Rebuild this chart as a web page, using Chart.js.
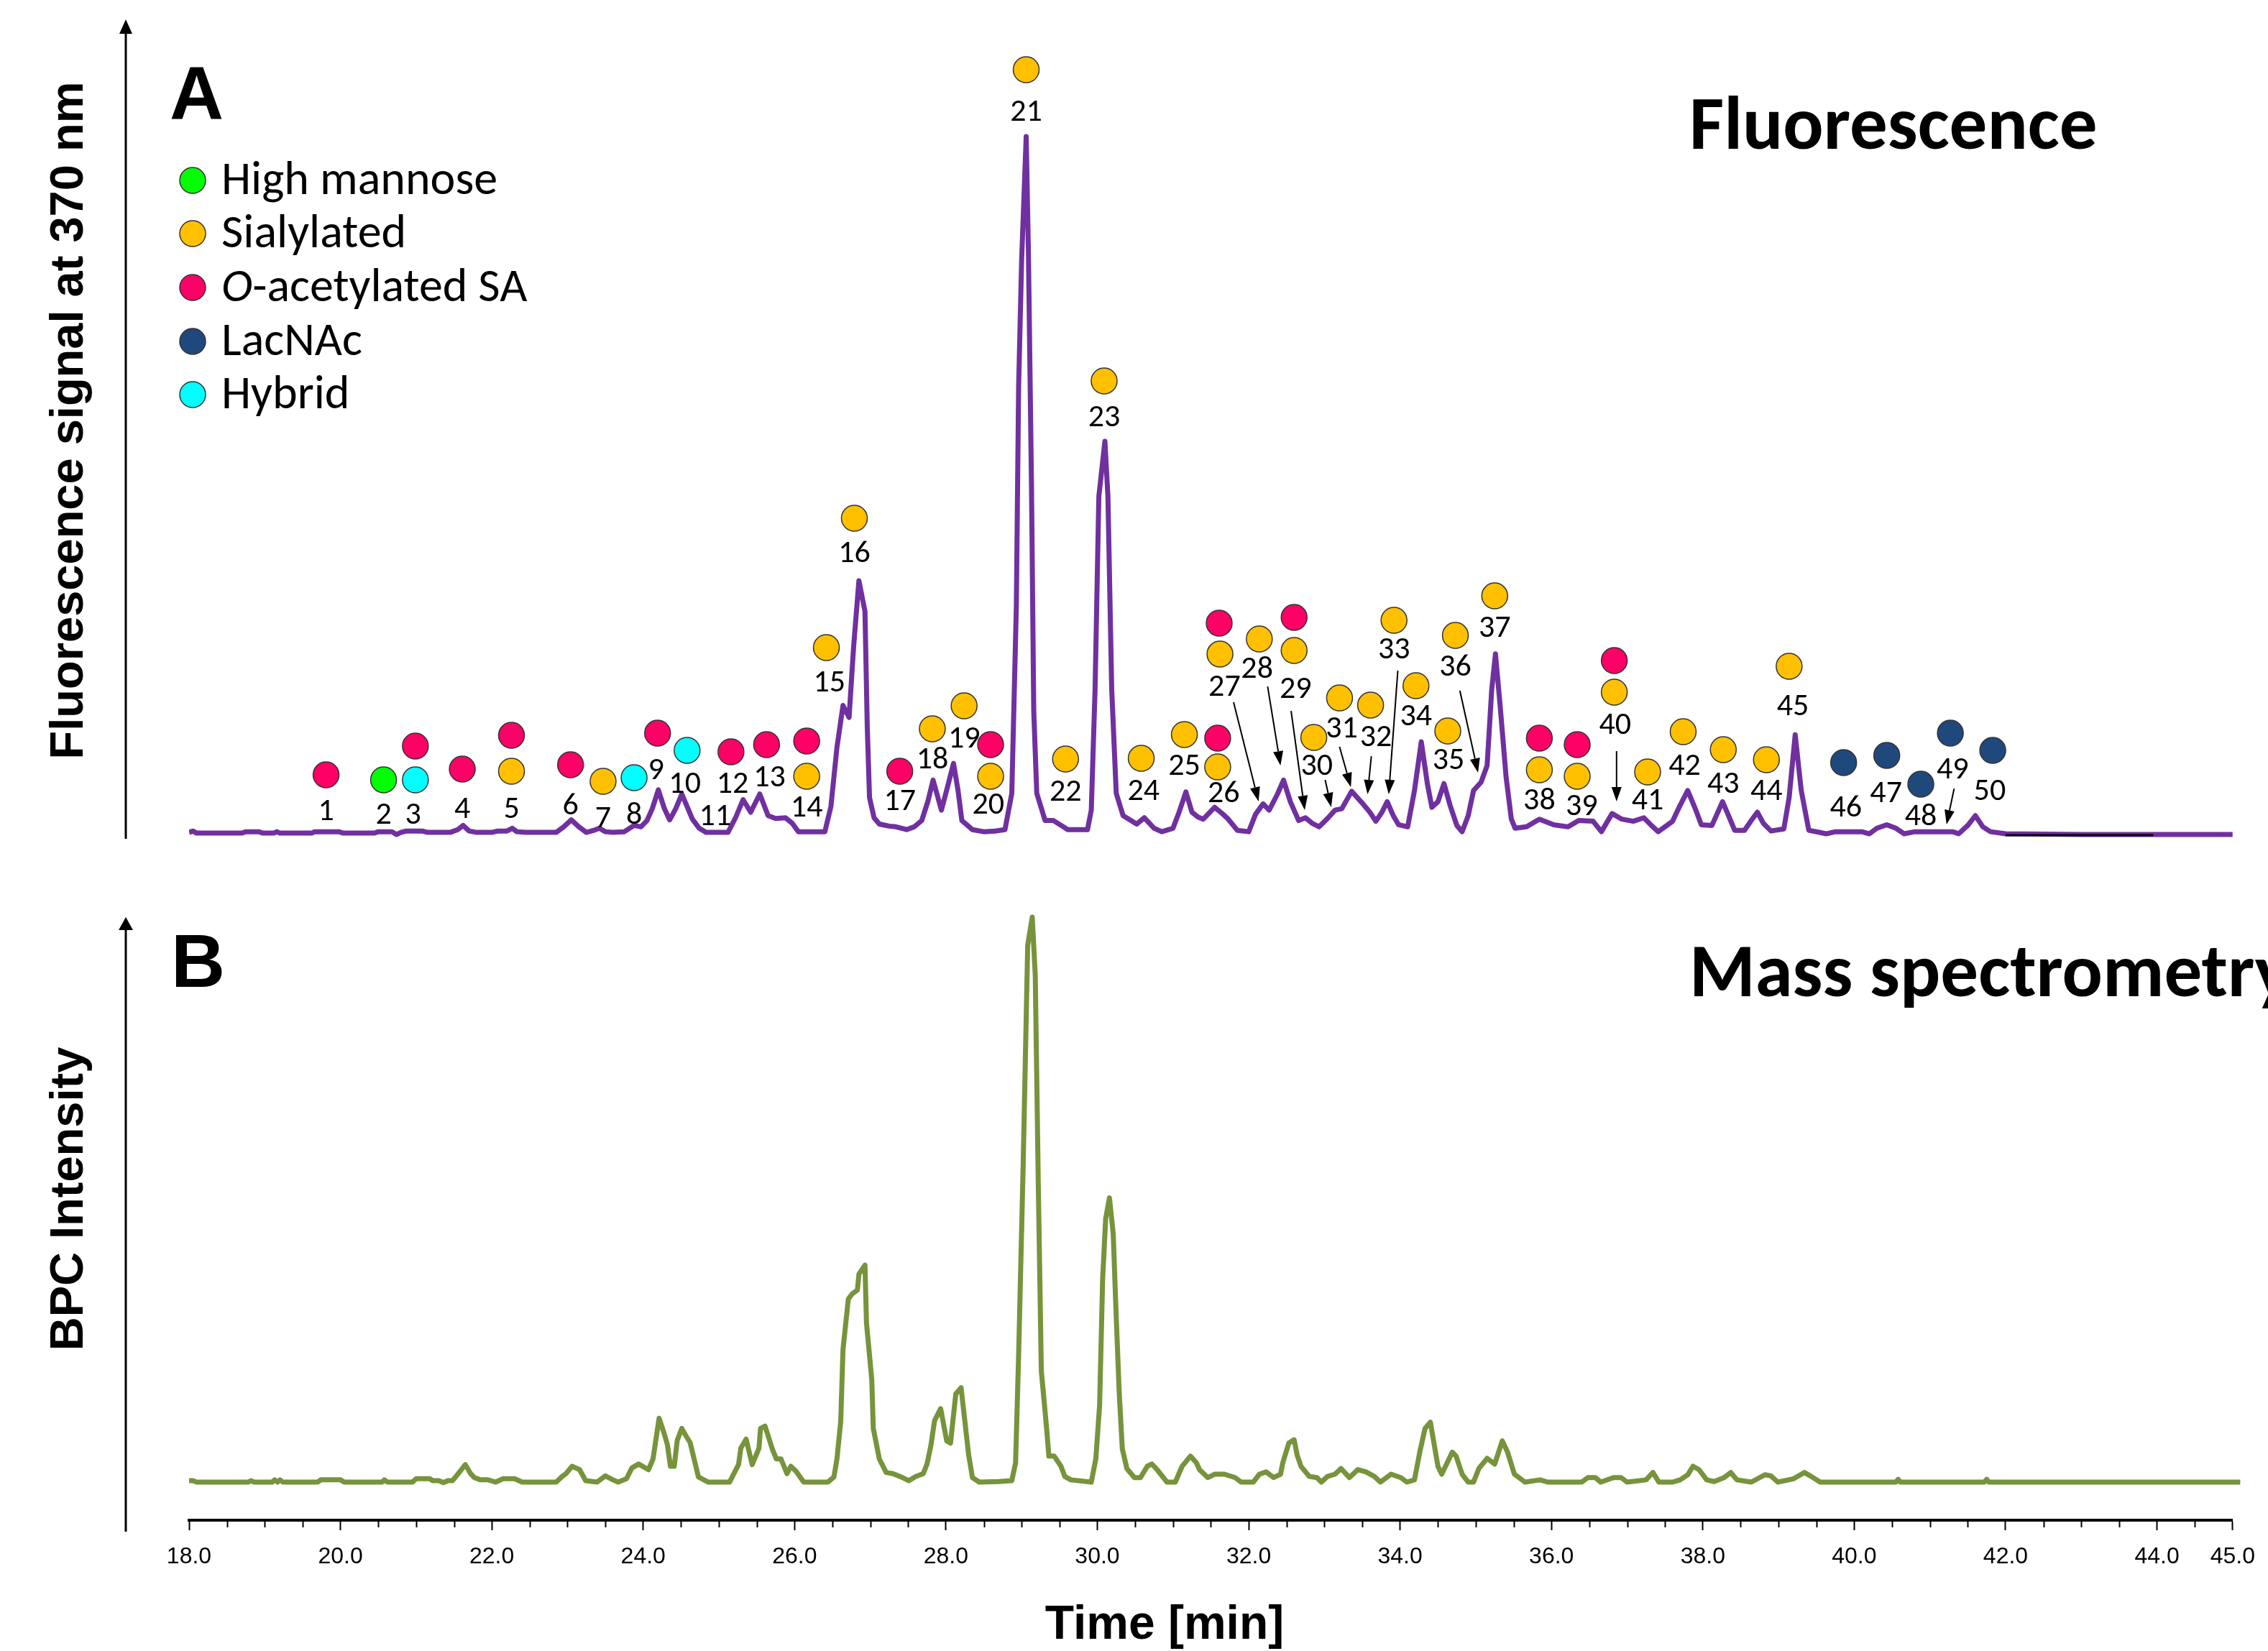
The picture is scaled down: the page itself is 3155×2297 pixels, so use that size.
<!DOCTYPE html>
<html>
<head>
<meta charset="utf-8">
<script src="https://cdn.jsdelivr.net/npm/chart.js@4.4.1/dist/chart.umd.min.js"></script>
<style>
  html, body { margin: 0; padding: 0; background: #fff; overflow: hidden; }
  canvas { display: block; }
</style>
</head>
<body>
<canvas id="chromatogram" width="3155" height="2297"></canvas>
<script>
// ---- data ----
// fluorescence trace, [time min, signal % of peak 21]
const fluoTrace = [
  [18.00,0.2],[18.05,0.4],[18.10,0.1],[18.70,0.1],[18.75,0.3],[18.92,0.3],[18.97,0.1],[19.12,0.1],[19.16,0.3],[19.20,0.1],
  [19.62,0.1],[19.66,0.3],[19.98,0.3],[20.03,0.1],[20.45,0.1],[20.50,0.3],[20.68,0.3],[20.74,-0.1],[20.80,0.2],[20.87,0.4],
  [21.08,0.4],[21.15,0.2],[21.45,0.2],[21.55,0.6],[21.62,1.2],[21.70,0.4],[21.80,0.2],[22.00,0.2],[22.08,0.4],[22.20,0.4],
  [22.27,0.8],[22.33,0.3],[22.45,0.2],[22.85,0.2],[22.95,1.0],[23.05,2.0],[23.15,1.0],[23.25,0.2],[23.35,0.5],[23.42,0.8],
  [23.50,0.3],[23.60,0.2],[23.75,0.3],[23.88,1.2],[23.97,1.0],[24.05,1.9],[24.12,3.6],[24.20,6.3],[24.28,3.6],[24.35,2.0],
  [24.43,3.6],[24.51,5.7],[24.58,3.9],[24.65,2.1],[24.74,0.8],[24.83,0.2],[25.12,0.2],[25.22,2.3],[25.32,4.9],[25.42,3.1],
  [25.54,5.7],[25.65,2.6],[25.75,2.2],[25.88,2.3],[25.97,1.5],[26.05,0.3],[26.40,0.3],[26.48,3.9],[26.56,12.4],[26.64,18.4],
  [26.72,16.7],[26.78,26.8],[26.85,36.3],[26.93,31.9],[26.96,15.5],[26.99,5.2],[27.05,2.3],[27.12,1.4],[27.25,1.1],[27.34,1.0],
  [27.48,0.6],[27.58,1.0],[27.68,1.9],[27.76,4.6],[27.83,7.7],[27.94,3.4],[28.02,6.7],[28.10,10.1],[28.16,6.2],[28.21,1.9],
  [28.35,0.6],[28.50,0.3],[28.65,0.4],[28.78,0.6],[28.87,5.8],[28.93,32.6],[28.96,64.1],[29.00,82.3],[29.06,100],[29.09,83.1],
  [29.13,50.0],[29.16,17.6],[29.20,5.8],[29.31,1.9],[29.42,1.9],[29.61,0.6],[29.87,0.6],[29.92,3.4],[29.97,20.7],[30.02,48.4],
  [30.10,56.3],[30.14,48.4],[30.19,20.7],[30.25,5.8],[30.34,2.6],[30.52,1.4],[30.62,2.3],[30.75,0.8],[30.85,0.3],[31.00,0.8],
  [31.08,3.1],[31.17,6.0],[31.25,3.1],[31.33,2.4],[31.40,2.1],[31.55,3.8],[31.65,2.9],[31.73,2.1],[31.85,0.5],[32.00,0.3],
  [32.09,2.8],[32.19,4.3],[32.27,3.4],[32.38,5.7],[32.46,7.7],[32.55,4.6],[32.66,1.9],[32.75,2.3],[32.84,1.5],[32.93,1.0],
  [33.05,2.3],[33.14,3.4],[33.23,3.6],[33.36,6.1],[33.50,4.4],[33.60,3.1],[33.68,1.8],[33.76,3.1],[33.83,4.6],[33.91,2.6],
  [33.98,1.3],[34.10,1.0],[34.19,6.2],[34.28,13.2],[34.36,7.2],[34.42,3.8],[34.50,4.6],[34.58,7.2],[34.66,4.1],[34.75,1.2],
  [34.82,0.3],[34.90,2.6],[34.97,6.2],[35.07,7.4],[35.15,9.8],[35.21,20.6],[35.26,25.8],[35.32,18.6],[35.40,8.2],[35.47,2.1],
  [35.52,0.8],[35.67,1.0],[35.84,2.1],[36.03,1.3],[36.22,1.0],[36.36,1.9],[36.55,1.8],[36.66,0.3],[36.80,2.9],[36.93,2.1],
  [37.08,1.8],[37.22,2.3],[37.32,1.2],[37.41,0.3],[37.60,1.8],[37.70,4.1],[37.80,6.2],[37.90,3.6],[37.98,1.3],[38.12,1.2],
  [38.26,4.6],[38.34,2.6],[38.42,0.5],[38.55,0.5],[38.64,1.9],[38.72,3.1],[38.80,1.5],[38.90,0.4],[39.07,0.7],[39.14,5.2],
  [39.22,14.2],[39.30,6.2],[39.40,0.5],[39.63,0],[39.75,0.3],[40.10,0.3],[40.20,0],[40.30,0.8],[40.43,1.3],[40.55,0.8],
  [40.66,0],[40.80,0.3],[41.30,0.3],[41.38,0],[41.50,1.2],[41.60,2.6],[41.70,1.0],[41.80,0.3],[42.00,0],[43.00,-0.1],
  [44.20,-0.1],[45.00,-0.1]
];
// blank segment drawn in black on the fluorescence baseline
const blankTrace = [[42.00,-0.2],[43.95,-0.2]];

// base peak chromatogram, [time min, intensity % of max]
const bpcTrace = [
  [18.00,0.25],[18.05,0.25],[18.10,0],[18.78,0],[18.82,0.25],[18.86,0],[19.10,0],[19.13,0.4],[19.17,0],[19.20,0.4],
  [19.24,0],[19.70,0],[19.74,0.4],[20.00,0.4],[20.05,0],[20.55,0],[20.58,0.4],[20.62,0],[20.95,0],[21.00,0.6],
  [21.18,0.6],[21.22,0.25],[21.30,0.25],[21.36,-0.1],[21.42,0.25],[21.48,0.25],[21.52,0.9],[21.58,1.9],[21.65,3.1],[21.72,1.5],
  [21.77,0.8],[21.85,0.4],[21.95,0.4],[22.05,0],[22.15,0.6],[22.30,0.6],[22.40,0],[22.85,0],[22.93,1.0],[22.98,1.5],
  [23.06,2.8],[23.16,2.2],[23.24,0.25],[23.39,0],[23.50,1.1],[23.60,0.4],[23.67,0],[23.78,0.6],[23.85,2.5],[23.94,3.2],
  [24.07,2.2],[24.13,4.1],[24.21,11.3],[24.27,8.9],[24.32,6.6],[24.36,2.8],[24.41,2.8],[24.45,7.4],[24.51,9.5],[24.56,8.3],
  [24.62,7.0],[24.73,0.9],[24.86,0],[25.14,0],[25.26,3.1],[25.29,6.0],[25.36,7.6],[25.44,3.1],[25.53,6.0],[25.55,9.5],
  [25.61,9.9],[25.71,5.7],[25.76,4.1],[25.82,4.1],[25.90,1.5],[25.95,2.8],[26.02,1.9],[26.12,0],[26.44,0],[26.52,0.9],
  [26.56,4.1],[26.61,10.8],[26.64,23.5],[26.71,32.4],[26.76,33.3],[26.83,34.0],[26.85,36.8],[26.93,38.4],[26.95,28.2],[27.02,18.1],
  [27.04,9.5],[27.12,4.1],[27.21,1.7],[27.30,1.5],[27.41,0.9],[27.51,0.25],[27.60,1.0],[27.70,1.5],[27.75,3.2],[27.80,6.4],
  [27.85,10.9],[27.93,13.0],[28.01,7.3],[28.06,6.9],[28.13,15.6],[28.20,16.7],[28.30,4.8],[28.35,0.8],[28.44,0],[28.70,0.1],
  [28.87,0.25],[28.92,3.4],[28.96,22.4],[29.02,56.0],[29.08,95.0],[29.14,100],[29.18,89.7],[29.22,52.7],[29.26,19.7],[29.33,9.5],
  [29.36,4.6],[29.43,4.6],[29.52,2.8],[29.57,1.0],[29.65,0.4],[29.92,0],[29.98,4.1],[30.03,13.6],[30.07,35.9],[30.11,46.6],
  [30.16,50.3],[30.21,43.9],[30.25,29.1],[30.29,15.6],[30.33,5.9],[30.39,2.4],[30.49,0.8],[30.57,0.8],[30.66,2.8],[30.72,3.2],
  [30.79,2.2],[30.92,0],[31.03,0],[31.12,2.8],[31.23,4.6],[31.31,3.4],[31.35,2.2],[31.46,0.8],[31.55,1.4],[31.68,1.4],
  [31.82,0.8],[31.90,0],[32.06,0],[32.14,1.4],[32.23,1.8],[32.33,0.8],[32.42,1.4],[32.45,3.4],[32.53,6.9],[32.60,7.5],
  [32.64,4.8],[32.69,2.8],[32.80,1.0],[32.90,0.8],[32.96,0],[33.04,1.0],[33.14,1.4],[33.22,2.4],[33.33,0.8],[33.44,2.2],
  [33.55,1.8],[33.66,1.0],[33.74,0],[33.88,1.4],[34.01,0.8],[34.09,0],[34.19,0.4],[34.26,5.3],[34.33,9.5],[34.40,10.6],
  [34.50,2.8],[34.55,1.4],[34.69,5.3],[34.74,4.6],[34.82,1.4],[34.90,0],[34.97,0],[35.04,2.4],[35.15,4.2],[35.25,3.2],
  [35.35,7.3],[35.42,5.3],[35.51,1.4],[35.65,0],[35.85,0.4],[35.95,0],[36.40,0],[36.48,0.8],[36.58,0.8],[36.65,0],
  [36.82,0.8],[36.92,0.8],[37.00,0],[37.25,0.4],[37.34,1.7],[37.42,0],[37.60,0],[37.70,0.4],[37.80,1.3],[37.87,2.8],
  [37.95,2.2],[38.05,0.4],[38.15,0.1],[38.28,0.8],[38.37,1.7],[38.45,0.4],[38.64,0],[38.75,0.8],[38.82,1.3],[38.90,1.1],
  [38.99,0],[39.20,0.6],[39.34,1.7],[39.42,1.1],[39.55,0],[40.55,0],[40.58,0.5],[40.61,0],[41.72,0],[41.75,0.5],
  [41.78,0],[45.10,0]
];

// x axis
const xTicks = [18, 20, 22, 24, 26, 28, 30, 32, 34, 36, 38, 40, 42, 44, 45];
const xMinorTicks = [];
for (let v = 18.5; v < 45; v += 0.5) if (!xTicks.includes(v)) xMinorTicks.push(v);

// glycan classes
const classKeys = ['M', 'S', 'O', 'L', 'H'];
const classNames = ['High mannose', 'Sialylated', 'O-acetylated SA', 'LacNAc', 'Hybrid'];
const classColors = ['#00FF00', '#FFC000', '#FF0066', '#1F497D', '#00FFFF'];

// peak class markers: time, level (% scale of trace A), class
const markTime = [19.81, 20.57, 20.99, 20.99, 21.61, 22.26, 22.26, 23.04, 23.47, 23.88, 24.19, 24.58, 25.16, 25.63,
  26.16, 26.16, 26.42, 26.79, 27.39, 27.82, 28.24, 28.59, 28.59, 29.06, 29.58, 30.09, 30.58, 31.15, 31.59, 31.59,
  31.61, 31.62, 32.14, 32.60, 32.60, 32.86, 33.20, 33.61, 33.92, 34.21, 34.63, 34.73, 35.25, 35.84, 35.84, 36.34,
  36.34, 36.83, 36.83, 37.27, 37.74, 38.27, 38.84, 39.14, 39.86, 40.43, 40.88, 41.27, 41.83];
const markLevel = [8.45, 7.73, 7.73, 12.58, 9.28, 14.12, 8.97, 9.90, 7.53, 8.04, 14.43, 11.96, 11.75, 12.78,
  13.30, 8.25, 26.70, 45.26, 8.97, 15.05, 18.35, 12.78, 8.25, 109.6, 10.72, 64.95, 10.82, 14.23, 13.71, 9.59,
  30.21, 25.77, 27.94, 31.03, 26.29, 13.81, 19.48, 18.45, 30.62, 21.24, 14.74, 28.45, 34.12, 13.71, 9.18, 12.78,
  8.25, 24.85, 20.31, 8.87, 14.64, 12.06, 10.62, 24.02, 10.21, 11.24, 7.11, 14.43, 11.96];
const markClass = ['O', 'M', 'H', 'O', 'O', 'O', 'S', 'O', 'S', 'H', 'O', 'H', 'O', 'O',
  'O', 'S', 'S', 'S', 'O', 'S', 'S', 'O', 'S', 'S', 'S', 'S', 'S', 'S', 'O', 'S',
  'O', 'S', 'S', 'O', 'S', 'S', 'S', 'S', 'S', 'S', 'S', 'S', 'S', 'O', 'S', 'O',
  'S', 'O', 'S', 'S', 'S', 'S', 'S', 'S', 'L', 'L', 'L', 'L', 'L'];

// peak number labels 1..50: time, level
const labelPos = [
  [19.81,3.09],[20.57,2.58],[20.96,2.58],[21.61,3.40],[22.26,3.40],[23.04,3.92],[23.47,2.06],[23.88,2.58],[24.17,8.97],[24.55,7.01],
  [24.95,2.37],[25.18,7.01],[25.67,7.94],[26.16,3.61],[26.46,21.55],[26.79,40.10],[27.39,4.54],[27.82,10.52],[28.24,13.51],[28.56,4.02],
  [29.06,103.4],[29.58,5.88],[30.09,59.59],[30.61,5.98],[31.15,9.59],[31.67,5.67],[31.68,20.93],[32.11,23.51],[32.62,20.62],[32.90,9.59],
  [33.23,14.95],[33.68,13.71],[33.92,26.29],[34.21,16.70],[34.64,10.41],[34.73,23.81],[35.25,29.38],[35.84,4.64],[36.40,3.81],[36.84,15.46],
  [37.27,4.64],[37.76,9.59],[38.27,7.01],[38.84,5.98],[39.19,18.14],[39.89,3.61],[40.42,5.67],[40.88,2.37],[41.30,9.07],[41.79,5.98]
];

// leader arrows: [from time, from level, to time, to level]
const arrows = [
  [31.80,18.87,32.13,4.64], [32.25,21.13,32.42,9.79], [32.56,17.63,32.74,3.40], [33.01,7.73,33.09,3.81],
  [33.20,12.47,33.35,6.70], [33.62,11.13,33.57,5.67], [33.97,23.40,33.85,5.67], [34.79,20.52,35.03,8.76],
  [36.86,11.86,36.86,4.64], [41.32,6.49,41.22,1.34]
];

// ---- drawing helpers ----
const SANS = '"Liberation Sans", Arial, sans-serif';
const CAL = 'Carlito, Lato, "Noto Sans", sans-serif';

function arrow(ctx, x0, y0, x1, y1, head, half) {
  const a = Math.atan2(y1 - y0, x1 - x0);
  const bx = x1 - head * Math.cos(a), by = y1 - head * Math.sin(a);
  ctx.beginPath();
  ctx.moveTo(x0, y0);
  ctx.lineTo(bx, by);
  ctx.stroke();
  ctx.beginPath();
  ctx.moveTo(x1, y1);
  ctx.lineTo(bx + half * Math.sin(a), by - half * Math.cos(a));
  ctx.lineTo(bx - half * Math.sin(a), by + half * Math.cos(a));
  ctx.closePath();
  ctx.fill();
}

const decorations = {
  id: 'decorations',
  afterDraw(chart) {
    const ctx = chart.ctx;
    const { x, yA } = chart.scales;
    const axisX = x.left - 88;
    ctx.save();
    ctx.fillStyle = '#000';
    ctx.strokeStyle = '#000';

    // minor ticks on time axis
    ctx.lineWidth = 2;
    const axisY = chart.chartArea.bottom + 2;
    xMinorTicks.forEach(v => {
      const px = Math.round(x.getPixelForValue(v)) + 0.5;
      ctx.beginPath();
      ctx.moveTo(px, axisY);
      ctx.lineTo(px, axisY + 8);
      ctx.stroke();
    });

    // y axis arrows
    ctx.lineWidth = 3;
    arrow(ctx, axisX, 1167, axisX, 27, 20, 9);
    arrow(ctx, axisX, 2131, axisX, 1276, 18, 10);

    // axis titles
    ctx.font = 'bold 65px ' + SANS;
    ctx.textAlign = 'center';
    ctx.textBaseline = 'middle';
    [['Fluorescence signal at 370 nm', 585], ['BPC Intensity', 1668]].forEach(([t, cy]) => {
      ctx.save();
      ctx.translate(97, cy);
      ctx.rotate(-Math.PI / 2);
      ctx.fillText(t, 0, 0);
      ctx.restore();
    });
    ctx.font = 'bold 66px ' + SANS;
    ctx.textBaseline = 'alphabetic';
    ctx.fillText('Time [min]', 1620, 2280);

    // panel letters and titles
    ctx.textAlign = 'left';
    ctx.font = 'bold 104px ' + SANS;
    ctx.fillText('A', 236, 165);
    ctx.fillText('B', 238, 1373);
    ctx.font = 'bold 105px ' + CAL;
    ctx.fillText('Fluorescence', 2350, 207);
    ctx.fillText('Mass spectrometry', 2350, 1386);

    // legend
    const legendY = [251, 325, 400, 475, 549];
    classNames.forEach((name, i) => {
      ctx.beginPath();
      ctx.arc(268, legendY[i], 18, 0, Math.PI * 2);
      ctx.fillStyle = classColors[i];
      ctx.fill();
      ctx.lineWidth = 1.5;
      ctx.strokeStyle = '#333';
      ctx.stroke();
      ctx.fillStyle = '#000';
      ctx.textBaseline = 'middle';
      let tx = 308;
      if (name.startsWith('O-')) {
        ctx.font = 'italic 66px ' + CAL;
        ctx.fillText('O', tx, legendY[i] + 2);
        tx += ctx.measureText('O').width;
        name = name.slice(1);
      }
      ctx.font = '66px ' + CAL;
      ctx.fillText(name, tx, legendY[i] + 2);
    });

    // leader arrows
    ctx.lineWidth = 2;
    ctx.strokeStyle = '#000';
    arrows.forEach(([t0, v0, t1, v1]) => {
      arrow(ctx, x.getPixelForValue(t0), yA.getPixelForValue(v0),
        x.getPixelForValue(t1), yA.getPixelForValue(v1), 20, 7);
    });

    // peak numbers
    ctx.font = '44px ' + CAL;
    ctx.textAlign = 'center';
    ctx.textBaseline = 'middle';
    labelPos.forEach(([t, v], i) => {
      ctx.fillText(String(i + 1), x.getPixelForValue(t), yA.getPixelForValue(v));
    });
    ctx.restore();
  }
};

new Chart(document.getElementById('chromatogram'), {
  type: 'line',
  data: {
    datasets: [
      {
        label: 'Glycan class',
        data: markTime.map((t, i) => ({ x: t, y: markLevel[i] })),
        yAxisID: 'yA',
        showLine: false,
        pointRadius: 18,
        pointBorderWidth: 1.5,
        pointBorderColor: '#333',
        pointBackgroundColor: markClass.map(c => classColors[classKeys.indexOf(c)]),
        order: 0
      },
      {
        label: 'Blank',
        data: blankTrace.map(([t, v]) => ({ x: t, y: v })),
        yAxisID: 'yA',
        borderColor: '#000',
        borderWidth: 3,
        pointRadius: 0,
        order: 1
      },
      {
        label: 'Fluorescence',
        data: fluoTrace.map(([t, v]) => ({ x: t, y: v })),
        yAxisID: 'yA',
        borderColor: '#7030A0',
        borderWidth: 7,
        borderJoinStyle: 'round',
        pointRadius: 0,
        tension: 0,
        order: 2
      },
      {
        label: 'BPC',
        data: bpcTrace.map(([t, v]) => ({ x: t, y: v })),
        yAxisID: 'yB',
        borderColor: '#77933C',
        borderWidth: 7,
        borderJoinStyle: 'round',
        pointRadius: 0,
        tension: 0,
        clip: false,
        order: 3
      }
    ]
  },
  options: {
    responsive: false,
    animation: false,
    events: [],
    layout: { padding: { left: 263, right: 30, top: 30, bottom: 0 }, autoPadding: false },
    plugins: { legend: { display: false }, tooltip: { enabled: false } },
    scales: {
      x: {
        type: 'linear',
        min: 18,
        max: 45,
        afterBuildTicks: s => { s.ticks = xTicks.map(v => ({ value: v })); },
        afterFit: s => { s.height = 182; },
        ticks: {
          autoSkip: false,
          maxRotation: 0,
          padding: 18,
          color: '#000',
          font: { family: SANS, size: 32 },
          callback: v => Number(v).toFixed(1)
        },
        grid: { drawOnChartArea: false, drawTicks: true, tickLength: 14, tickWidth: 2, tickColor: '#000' },
        border: { display: true, color: '#000', width: 4 }
      },
      yA: { type: 'linear', display: false, min: -98.45, max: 116.5 },
      yB: { type: 'linear', display: false, min: -6.74, max: 258.5 }
    }
  },
  plugins: [decorations]
});
</script>
</body>
</html>
